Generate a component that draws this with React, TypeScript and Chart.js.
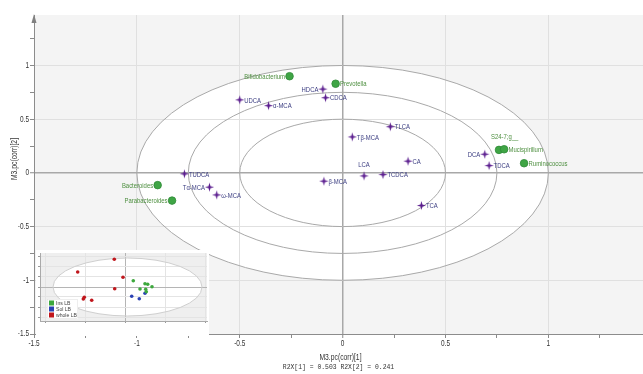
import React, { useEffect, useRef } from 'react';
import { Chart, registerables } from 'chart.js';
Chart.register(...registerables);

// ---------- main loading plot data ----------
const bacteriaNames = ['Bifidobacterium', 'Prevotella', 'S24-7;g__', 'Mucispirillum', 'Ruminococcus', 'Bacteroides', 'Parabacteroides'];
const bacteriaX = [-0.258, -0.034, 0.76, 0.785, 0.882, -0.899, -0.829];
const bacteriaY = [0.90, 0.83, 0.214, 0.22, 0.09, -0.114, -0.258];
const bacteriaLabelSide = ['left', 'right', 'aboveLeft', 'right', 'right', 'left', 'left'];

const bileNames = ['UDCA', 'α-MCA', 'HDCA', 'CDCA', 'TLCA', 'Tβ-MCA', 'CA', 'LCA', 'TCDCA', 'β-MCA', 'TCA', 'DCA', 'TDCA', 'TUDCA', 'Tα-MCA', 'ω-MCA'];
const bileX = [-0.50, -0.36, -0.096, -0.083, 0.232, 0.047, 0.318, 0.104, 0.196, -0.091, 0.383, 0.691, 0.712, -0.769, -0.647, -0.612];
const bileY = [0.68, 0.626, 0.78, 0.70, 0.43, 0.335, 0.109, -0.028, -0.016, -0.077, -0.304, 0.174, 0.068, -0.009, -0.133, -0.205];
const bileLabelSide = ['right', 'right', 'left', 'right', 'right', 'right', 'right', 'above', 'right', 'right', 'right', 'left', 'right', 'right', 'left', 'right'];

const ellipseRadii = [1, 0.75, 0.5];

const xMajorTicks = [-1.5, -1, -0.5, 0, 0.5, 1];
const xMinorTicks = [-1.25, -0.75, -0.25, 0.25, 0.75, 1.25];
const yMajorTicks = [-1.5, -1, -0.5, 0, 0.5, 1];
const yMinorTicks = [-1.25, -0.75, -0.25, 0.25, 0.75, 1.25];

const xTitle = 'M3.pc(corr)[1]';
const xSubTitle = 'R2X[1] = 0.503 R2X[2] = 0.241';
const yTitle = 'M3.pc(corr)[2]';

// ---------- inset score plot data ----------
const insetGroups = ['Ins LB', 'Sol LB', 'whole LB'];
const insetColors = ['#3da83d', '#2a42b4', '#c0161c'];
const insetInsX = [0.83, 2.0, 2.27, 2.7, 1.5, 2.07, 2.13];
const insetInsY = [0.63, 0.33, 0.27, 0.03, -0.2, -0.23, -0.47];
const insetSolX = [0.67, 1.43, 2.0];
const insetSolY = [-0.93, -1.17, -0.63];
const insetWholeX = [-1.07, -4.73, -0.2, -1.03, -4.07, -4.17, -3.33];
const insetWholeY = [2.77, 1.5, 0.97, -0.17, -1.03, -1.2, -1.33];
const insetEllipse = { cx: 0.25, cy: 0, rx: 7.45, ry: 2.9 };

const SANS = '"Liberation Sans", Arial, sans-serif';
const STAR_COLOR = '#5a1c8e';
const STAR_LABEL = '#3a3c80';
const GREEN_FILL = '#3fa545';
const GREEN_LABEL = '#4c8e3e';

function narrowText(ctx: any, text: string, x: number, y: number, align: string, size: number, sx: number, font = SANS) {
  ctx.save();
  ctx.translate(x, y);
  ctx.scale(sx, 1);
  ctx.font = `${size}px ${font}`;
  ctx.textAlign = align;
  ctx.textBaseline = 'middle';
  ctx.fillText(text, 0, 0);
  ctx.restore();
}

function makeStar(color: string) {
  const c = document.createElement('canvas');
  c.width = 11; c.height = 11;
  const g = c.getContext('2d')!;
  g.beginPath();
  for (let i = 0; i < 8; i++) {
    const a = -Math.PI / 2 + (i * Math.PI) / 4;
    const r = i % 2 === 0 ? 4.6 : 1.4;
    const px = 5.5 + r * Math.cos(a), py = 5.5 + r * Math.sin(a);
    if (i === 0) g.moveTo(px, py); else g.lineTo(px, py);
  }
  g.closePath();
  g.fillStyle = color;
  g.fill();
  return c;
}

function pts(xs: number[], ys: number[]) {
  return xs.map((x, i) => ({ x, y: ys[i] }));
}

const mainPlugin = {
  id: 'mainDeco',
  beforeDraw(chart: any) {
    const { ctx, chartArea, scales } = chart;
    const { left, top, right, bottom } = chartArea;
    const x = scales.x, y = scales.y;
    ctx.save();
    ctx.fillStyle = '#f4f4f4';
    ctx.fillRect(left, top, right - left, bottom - top);
    const cx = x.getPixelForValue(0), cy = y.getPixelForValue(0);
    const r = ellipseRadii[0];
    ctx.beginPath();
    ctx.ellipse(cx, cy, x.getPixelForValue(r) - cx, cy - y.getPixelForValue(r), 0, 0, Math.PI * 2);
    ctx.fillStyle = '#ffffff';
    ctx.fill();
    ctx.restore();
  },
  beforeDatasetsDraw(chart: any) {
    const { ctx, chartArea, scales } = chart;
    const x = scales.x, y = scales.y;
    ctx.save();
    ctx.beginPath();
    ctx.rect(chartArea.left, chartArea.top, chartArea.right - chartArea.left, chartArea.bottom - chartArea.top);
    ctx.clip();
    const cx = x.getPixelForValue(0), cy = y.getPixelForValue(0);
    ctx.strokeStyle = '#a9a9a9';
    ctx.lineWidth = 1;
    ellipseRadii.forEach((r) => {
      ctx.beginPath();
      ctx.ellipse(cx, cy, x.getPixelForValue(r) - cx, cy - y.getPixelForValue(r), 0, 0, Math.PI * 2);
      ctx.stroke();
    });
    ctx.restore();

    // point labels (drawn beneath markers)
    ctx.save();
    const drawLabels = (dsIndex: number, names: string[], sides: string[], color: string) => {
      const meta = chart.getDatasetMeta(dsIndex);
      ctx.fillStyle = color;
      meta.data.forEach((el: any, i: number) => {
        const side = sides[i];
        const px = el.x, py = el.y;
        if (side === 'right') narrowText(ctx, names[i], px + 4.5, py + 0.5, 'left', 8, 0.74);
        else if (side === 'left') narrowText(ctx, names[i], px - 4.5, py + 0.5, 'right', 8, 0.74);
        else if (side === 'above') narrowText(ctx, names[i], px, py - 11, 'center', 8, 0.74);
        else narrowText(ctx, names[i], px - 8, py - 13, 'left', 8, 0.74);
      });
    };
    drawLabels(0, bileNames, bileLabelSide, STAR_LABEL);
    drawLabels(1, bacteriaNames, bacteriaLabelSide, GREEN_LABEL);
    ctx.restore();
  },
  afterDraw(chart: any) {
    const { ctx, chartArea, scales } = chart;
    const x = scales.x, y = scales.y;
    ctx.save();
    // arrow on top of y axis
    ctx.fillStyle = '#808080';
    ctx.beginPath();
    ctx.moveTo(chartArea.left, chartArea.top - 1);
    ctx.lineTo(chartArea.left - 2.5, chartArea.top + 8);
    ctx.lineTo(chartArea.left + 2.5, chartArea.top + 8);
    ctx.closePath();
    ctx.fill();
    // tick labels
    ctx.fillStyle = '#333';
    xMajorTicks.forEach((v) => {
      narrowText(ctx, String(v), x.getPixelForValue(v), chartArea.bottom + 10, 'center', 9, 0.72);
    });
    yMajorTicks.forEach((v) => {
      narrowText(ctx, String(v), chartArea.left - 5, y.getPixelForValue(v), 'right', 9, 0.72);
    });
    // titles
    const mid = (chartArea.left + chartArea.right) / 2;
    narrowText(ctx, xTitle, mid + 2, 357.5, 'center', 9, 0.75);
    ctx.save();
    ctx.translate(mid, 367);
    ctx.scale(0.8, 1);
    ctx.font = '8px "Liberation Mono", "DejaVu Sans Mono", monospace';
    ctx.textAlign = 'center';
    ctx.textBaseline = 'middle';
    ctx.fillText(xSubTitle, 0, 0);
    ctx.restore();
    ctx.save();
    ctx.translate(15, 159);
    ctx.rotate(-Math.PI / 2);
    narrowText(ctx, yTitle, 0, 0, 'center', 9, 0.75);
    ctx.restore();
    ctx.restore();
  },
};

const insetPlugin = {
  id: 'insetDeco',
  beforeDraw(chart: any) {
    const { ctx, chartArea, scales } = chart;
    const { left, top, right, bottom } = chartArea;
    const x = scales.x, y = scales.y;
    ctx.save();
    ctx.fillStyle = '#ffffff';
    ctx.fillRect(0, 0, chart.width, chart.height);
    ctx.fillStyle = '#efefef';
    ctx.fillRect(left, top, right - left, bottom - top);
    const cx = x.getPixelForValue(insetEllipse.cx), cy = y.getPixelForValue(insetEllipse.cy);
    ctx.beginPath();
    ctx.ellipse(cx, cy, x.getPixelForValue(insetEllipse.cx + insetEllipse.rx) - cx, cy - y.getPixelForValue(insetEllipse.cy + insetEllipse.ry), 0, 0, Math.PI * 2);
    ctx.fillStyle = '#ffffff';
    ctx.fill();
    ctx.restore();
  },
  beforeDatasetsDraw(chart: any) {
    const { ctx, scales } = chart;
    const x = scales.x, y = scales.y;
    const cx = x.getPixelForValue(insetEllipse.cx), cy = y.getPixelForValue(insetEllipse.cy);
    ctx.save();
    ctx.beginPath();
    ctx.ellipse(cx, cy, x.getPixelForValue(insetEllipse.cx + insetEllipse.rx) - cx, cy - y.getPixelForValue(insetEllipse.cy + insetEllipse.ry), 0, 0, Math.PI * 2);
    ctx.strokeStyle = '#cfcfcf';
    ctx.lineWidth = 1;
    ctx.stroke();
    ctx.restore();
  },
  afterDraw(chart: any) {
    const { ctx, chartArea } = chart;
    ctx.save();
    const lx = chartArea.left + 7, ly = chartArea.top + 46;
    ctx.fillStyle = '#ffffff';
    ctx.fillRect(lx, ly, 31, 20);
    ctx.strokeStyle = '#dddddd';
    ctx.lineWidth = 0.5;
    ctx.strokeRect(lx + 0.5, ly + 0.5, 30, 19);
    insetGroups.forEach((g, i) => {
      const yy = ly + 4 + i * 6;
      ctx.fillStyle = insetColors[i];
      ctx.fillRect(lx + 2, yy - 2.5, 5, 5);
      ctx.fillStyle = '#444';
      narrowText(ctx, g, lx + 9, yy + 0.3, 'left', 6, 0.85);
    });
    ctx.restore();
  },
};

function Inset() {
  const ref = useRef<HTMLCanvasElement>(null);
  useEffect(() => {
    const chart = new Chart(ref.current!, {
      type: 'scatter',
      data: {
        datasets: [
          { data: pts(insetInsX, insetInsY), backgroundColor: insetColors[0], borderWidth: 0, pointRadius: 1.8 },
          { data: pts(insetSolX, insetSolY), backgroundColor: insetColors[1], borderWidth: 0, pointRadius: 1.8 },
          { data: pts(insetWholeX, insetWholeY), backgroundColor: insetColors[2], borderWidth: 0, pointRadius: 1.8 },
        ],
      },
      options: {
        animation: false,
        responsive: false,
        devicePixelRatio: 1,
        layout: { autoPadding: false, padding: { top: 3, right: 2, left: 0, bottom: 0 } },
        plugins: { legend: { display: false }, tooltip: { enabled: false } },
        scales: {
          x: {
            type: 'linear', min: -8.5, max: 8.2,
            afterBuildTicks: (s: any) => { s.ticks = [-8, -4, 0, 4, 8].map((v) => ({ value: v })); },
            ticks: { display: false },
            grid: { color: (c: any) => (c.tick && c.tick.value === 0 ? '#b5b5b5' : '#e4e4e4'), tickLength: 2, tickColor: '#999' },
            border: { color: '#aaa' },
            afterFit: (s: any) => { s.height = 15; s.paddingLeft = 0; s.paddingRight = 0; },
          },
          y: {
            type: 'linear', min: -3.4, max: 3.4,
            afterBuildTicks: (s: any) => { s.ticks = [-3, -2, -1, 0, 1, 2, 3].map((v) => ({ value: v })); },
            ticks: { display: false },
            grid: { color: (c: any) => (c.tick && c.tick.value === 0 ? '#b5b5b5' : '#e4e4e4'), tickLength: 2, tickColor: '#999' },
            border: { color: '#aaa' },
            afterFit: (s: any) => { s.width = 4; s.paddingTop = 0; s.paddingBottom = 0; },
          },
        },
      },
      plugins: [insetPlugin],
    } as any);
    return () => chart.destroy();
  }, []);
  return <canvas ref={ref} width={173} height={86} style={{ position: 'absolute', left: 36, top: 250, width: 173, height: 86 }} />;
}

export default function App() {
  const ref = useRef<HTMLCanvasElement>(null);
  useEffect(() => {
    const star = makeStar(STAR_COLOR);
    const xTicks = [...xMajorTicks, ...xMinorTicks].sort((a, b) => a - b);
    const yTicks = [...yMajorTicks, ...yMinorTicks].sort((a, b) => a - b);
    const gridColor = (c: any) => {
      const v = c.tick ? c.tick.value : NaN;
      if (v === 0) return '#a8a8a8';
      return xMajorTicks.includes(v) ? '#e0e0e0' : 'rgba(0,0,0,0)';
    };
    const gridWidth = (c: any) => (c.tick && c.tick.value === 0 ? 1.5 : 1);
    const chart = new Chart(ref.current!, {
      type: 'scatter',
      data: {
        datasets: [
          { data: pts(bileX, bileY), pointStyle: star, pointRadius: 5, backgroundColor: STAR_COLOR },
          { data: pts(bacteriaX, bacteriaY), pointStyle: 'circle', pointRadius: 3.8, backgroundColor: GREEN_FILL, borderColor: '#2f8a37', borderWidth: 0.8 },
        ],
      },
      options: {
        animation: false,
        responsive: false,
        devicePixelRatio: 1,
        layout: { autoPadding: false, padding: { top: 15, right: 0, left: 0, bottom: 0 } },
        plugins: { legend: { display: false }, tooltip: { enabled: false } },
        scales: {
          x: {
            type: 'linear', min: -1.5, max: 1.46,
            afterBuildTicks: (s: any) => { s.ticks = xTicks.map((v) => ({ value: v })); },
            ticks: { display: false },
            grid: { color: gridColor, lineWidth: gridWidth, tickLength: 4, tickColor: '#8a8a8a', tickWidth: 1 },
            border: { color: '#8c8c8c', width: 1 },
            afterFit: (s: any) => { s.height = 40; s.paddingLeft = 0; s.paddingRight = 0; },
          },
          y: {
            type: 'linear', min: -1.5, max: 1.47,
            afterBuildTicks: (s: any) => { s.ticks = yTicks.map((v) => ({ value: v })); },
            ticks: { display: false },
            grid: { color: gridColor, lineWidth: gridWidth, tickLength: 4, tickColor: '#8a8a8a', tickWidth: 1 },
            border: { color: '#8c8c8c', width: 1 },
            afterFit: (s: any) => { s.width = 34; s.paddingTop = 0; s.paddingBottom = 0; },
          },
        },
      },
      plugins: [mainPlugin],
    } as any);
    return () => chart.destroy();
  }, []);
  return (
    <div style={{ position: 'fixed', left: 0, top: 0, width: 643, height: 374, background: '#fff' }}>
      <canvas ref={ref} width={643} height={374} style={{ position: 'absolute', left: 0, top: 0, width: 643, height: 374 }} />
      <Inset />
    </div>
  );
}
